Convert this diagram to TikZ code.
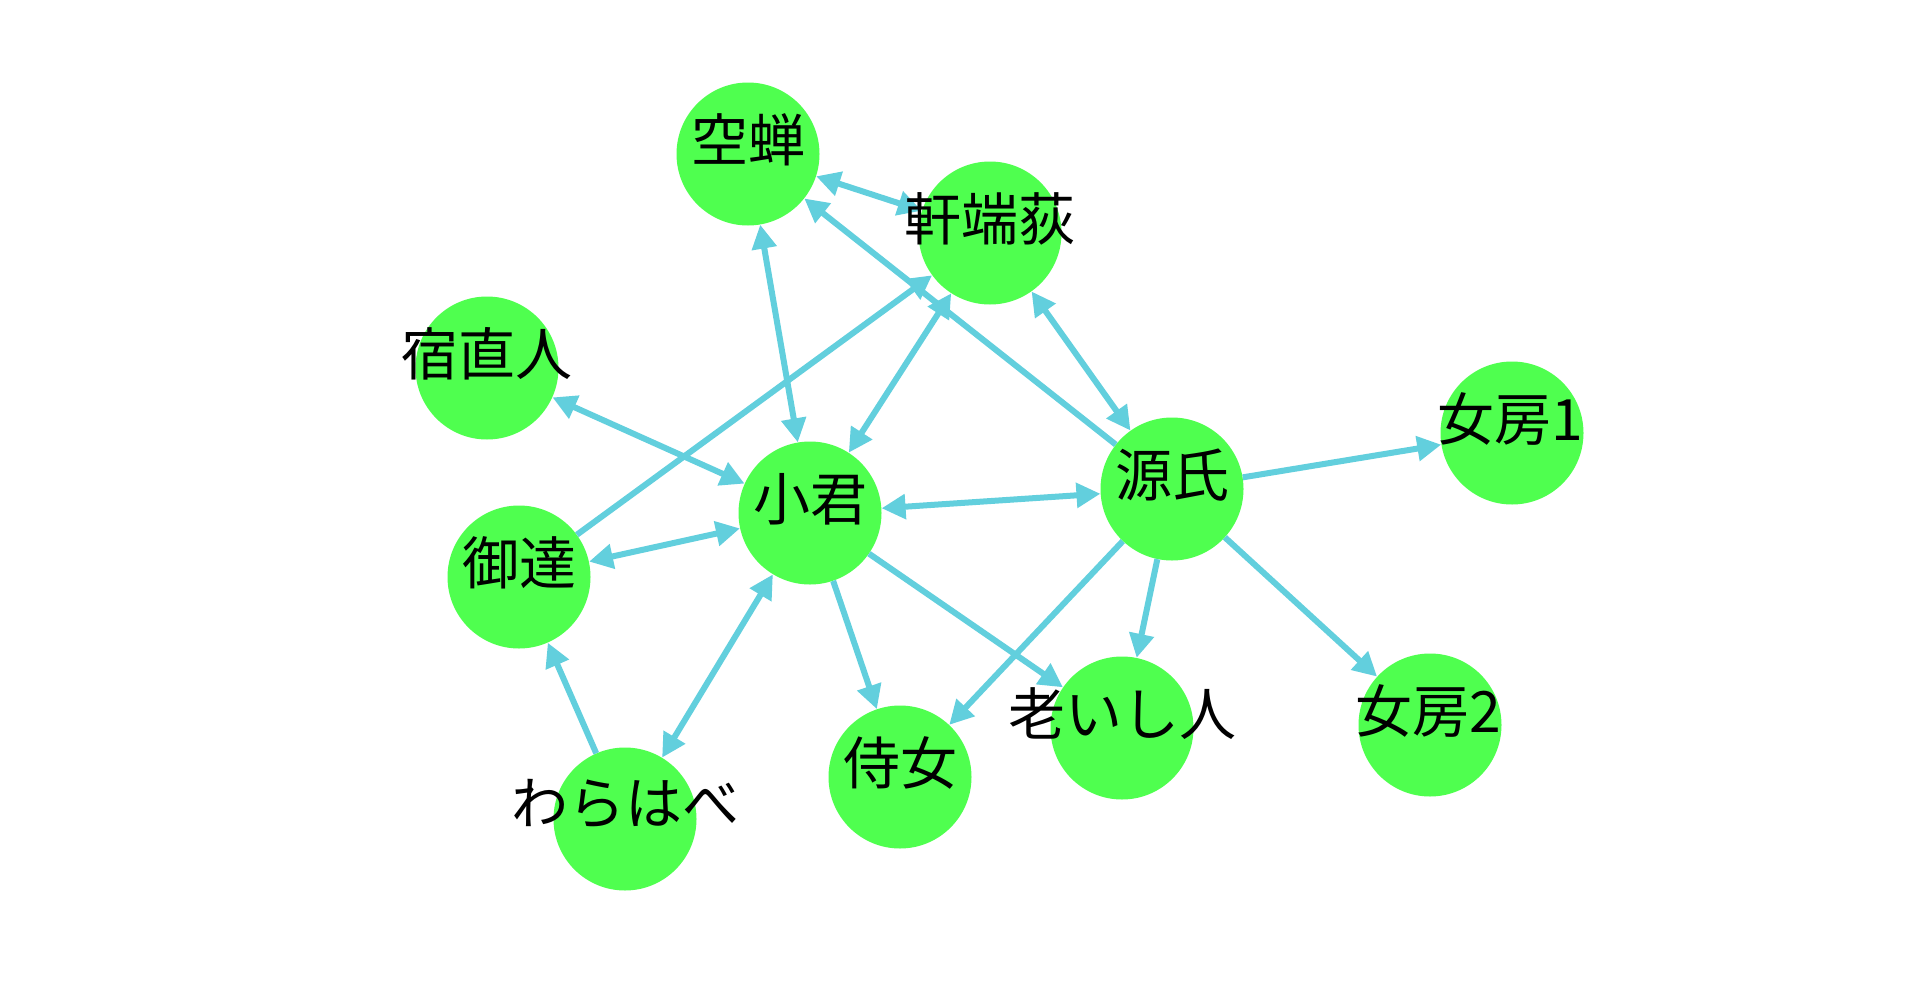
\documentclass[tikz,border=0pt]{standalone}
\usepackage{fontspec}
\newfontfamily\jp{Noto Sans CJK JP}
\usetikzlibrary{arrows.meta}
\definecolor{nodegreen}{HTML}{4FFF4F}
\definecolor{edgeblue}{HTML}{62CFDD}
\begin{document}
\begin{tikzpicture}[x=1pt,y=-1pt,
  vtx/.style={circle,fill=nodegreen,minimum size=143pt,inner sep=0pt},
  lbl/.style={font=\jp\fontsize{57pt}{60pt}\selectfont,text=black,inner sep=0pt},
  lnk/.style={draw=edgeblue,line width=6pt},
  one/.style={lnk,-{Triangle[length=24pt,width=24pt]}},
  two/.style={lnk,{Triangle[length=24pt,width=24pt]}-{Triangle[length=24pt,width=24pt]}}]
\fill[white] (0,0) rectangle (1920,1004);
\useasboundingbox (0,0) rectangle (1920,1004);
% nodes
\node[vtx] (A) at (748,154) {};
\node[vtx] (B) at (990,233) {};
\node[vtx] (C) at (487,368) {};
\node[vtx] (D) at (810,513) {};
\node[vtx] (E) at (1172,489) {};
\node[vtx] (F) at (1512,433) {};
\node[vtx] (G) at (519,577) {};
\node[vtx] (H) at (625,819) {};
\node[vtx] (I) at (900,777) {};
\node[vtx] (J) at (1122,728) {};
\node[vtx] (K) at (1430,725) {};
% edges
\draw[two] (A) -- (B);
\draw[one] (E) -- (A);
\draw[two] (B) -- (E);
\draw[two] (D) -- (A);
\draw[one] (G) -- (B);
\draw[two] (D) -- (B);
\draw[two] (C) -- (D);
\draw[two] (G) -- (D);
\draw[two] (D) -- (E);
\draw[one] (E) -- (F);
\draw[two] (H) -- (D);
\draw[one] (H) -- (G);
\draw[one] (D) -- (I);
\draw[one] (D) -- (J);
\draw[one] (E) -- (I);
\draw[one] (E) -- (J);
\draw[one] (E) -- (K);
% labels
\node[lbl] (tA) at (748,140) {空蝉};
\node[lbl] (tB) at (990,219) {軒端荻};
\node[lbl] (tC) at (487,354) {宿直人};
\node[lbl] (tD) at (810,499) {小君};
\node[lbl] (tE) at (1172,475) {源氏};
\node[lbl] (tF) at (1510,419) {女房1};
\node[lbl] (tG) at (519,563) {御達};
\node[lbl] (tH) at (625,804) {わらはべ};
\node[lbl] (tI) at (900,763) {侍女};
\node[lbl] (tJ) at (1122,714) {老いし人};
\node[lbl] (tK) at (1428,711) {女房2};
\end{tikzpicture}
\end{document}
